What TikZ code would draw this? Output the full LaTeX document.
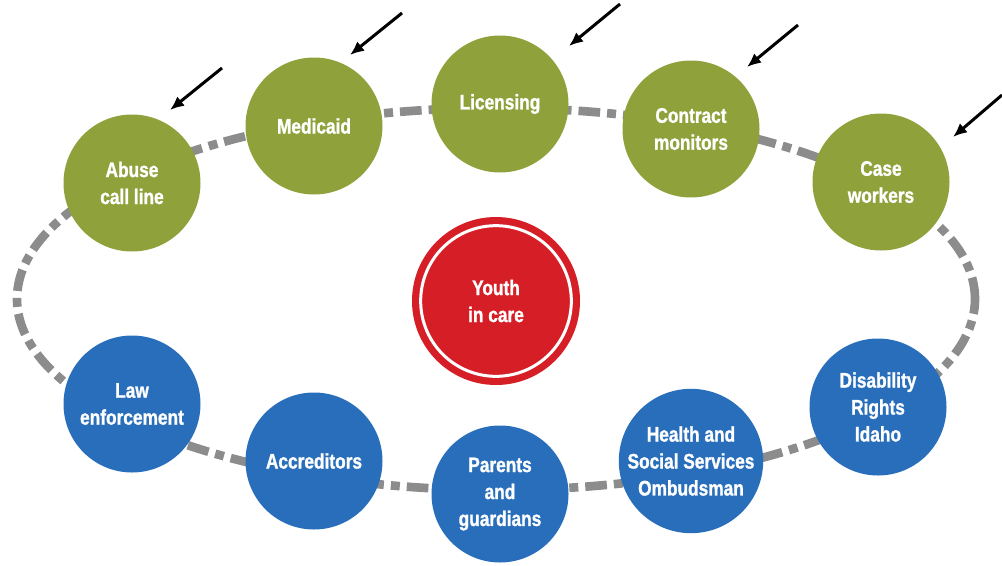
\documentclass[tikz,border=0pt]{standalone}
\usepackage{fontspec}
\newfontfamily\boxfont[FakeStretch=0.82,FakeBold=1.2]{Liberation Sans Bold}
\usetikzlibrary{arrows,arrows.meta}
\definecolor{olive}{RGB}{143,161,58}
\definecolor{agency}{RGB}{40,110,186}
\definecolor{youthred}{RGB}{214,30,38}
\definecolor{loopgray}{RGB}{140,140,140}
\tikzset{>=latex}
\tikzstyle{watch}=[circle,fill=olive,text=white,minimum size=41.1mm,inner sep=0pt,align=center,font=\boxfont\fontsize{18}{23}\selectfont]
\tikzstyle{other}=[circle,fill=agency,text=white,minimum size=41.1mm,inner sep=0pt,align=center,font=\boxfont\fontsize{18}{23}\selectfont]
\tikzstyle{hub}=[circle,fill=youthred,text=white,minimum size=50.4mm,inner sep=0pt,align=center,font=\boxfont\fontsize{18}{23}\selectfont]
\tikzstyle{loop}=[draw=loopgray,line width=2.6mm,dash pattern=on 6.5mm off 2.1mm on 2.7mm off 2.1mm]
\tikzstyle{pointer}=[-{Latex[length=4.2mm,width=3.6mm]},line width=0.9mm,black]

\begin{document}
\begin{tikzpicture}[x=0.3mm,y=-0.3mm]
	\useasboundingbox (0,0) rectangle (1002,565);
	
	\draw[loop] (496,299) ellipse [x radius=143.7mm, y radius=57.3mm];
	
	\node[watch] (abuse) at (132,183) {Abuse\\call line};
	\node[watch] (medicaid) at (314,126) {Medicaid};
	\node[watch] (licensing) at (500,104) {Licensing};
	\node[watch] (contract) at (691,129) {Contract\\monitors};
	\node[watch] (caseworkers) at (881,182) {Case\\workers};
	
	\node[other] (law) at (132,404) {Law\\enforcement};
	\node[other] (accred) at (314,461) {Accreditors};
	\node[other] (parents) at (500,494) {Parents\\and\\guardians};
	\node[other] (ombuds) at (691,461) {Health and\\Social Services\\Ombudsman};
	\node[other] (disab) at (878,407) {Disability\\Rights\\Idaho};
	
	\node[hub] (youth) at (496,301) {Youth\\in care};
	\draw[white,line width=0.9mm] (youth.center) circle [radius=22.6mm];
	
	% arrows onto the green ones
	\coordinate (from1) at (222,68);   \coordinate (to1) at (170,110);
	\coordinate (from2) at (402,13);   \coordinate (to2) at (350,55);
	\coordinate (from3) at (620,4);    \coordinate (to3) at (569,46);
	\coordinate (from4) at (798,25);   \coordinate (to4) at (747,67);
	\coordinate (from5) at (1002,95);  \coordinate (to5) at (953,137);
	\foreach \i in {1,...,5}
		\draw[pointer] (from\i) -- (to\i);
\end{tikzpicture}
\end{document}
